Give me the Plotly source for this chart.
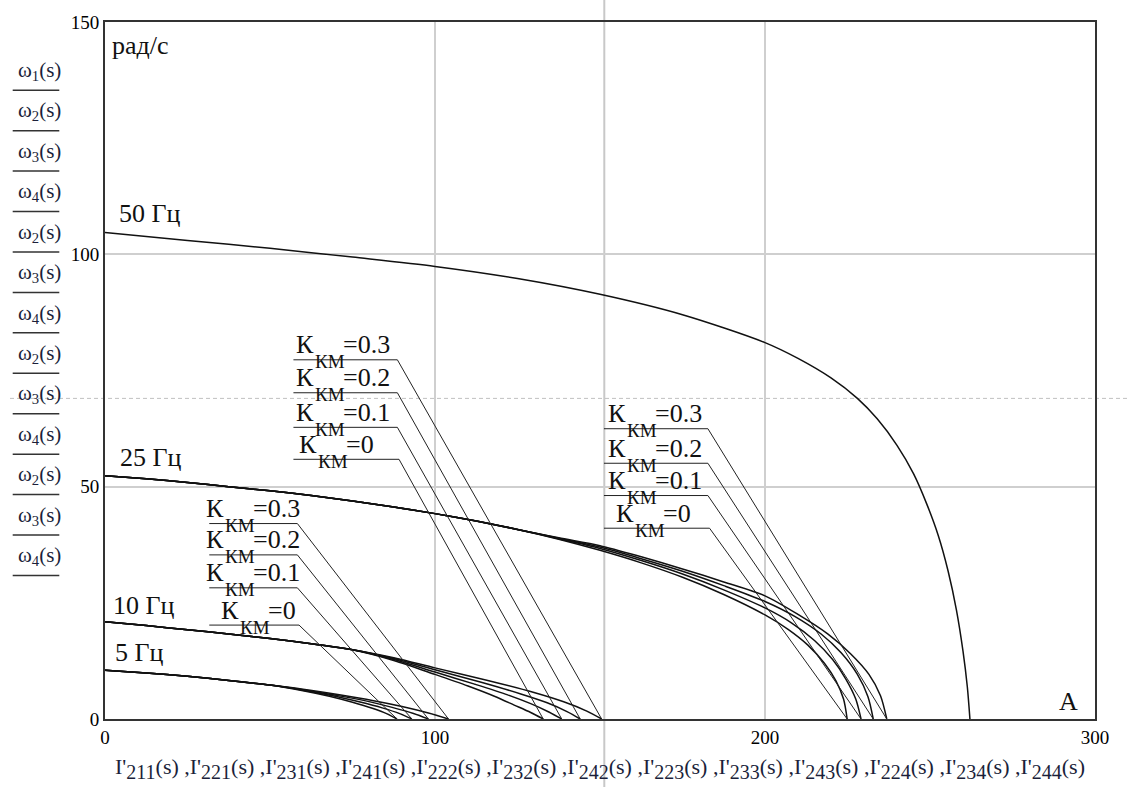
import plotly.graph_objects as go

# ---- data: rotor current I'2 (A) and angular speed omega (rad/s) ----
# 50 Hz
I_50 = [0, 25, 50, 75, 100, 125, 150, 175, 200, 210, 220, 228, 234, 240, 245, 249, 252.5, 255.5, 258, 260, 261.3, 262.1]
W_50 = [104.7, 103.0, 101.3, 99.4, 97.4, 94.8, 91.4, 87.0, 81.0, 77.6, 73.4, 69.0, 64.6, 58.9, 52.8, 46.3, 39.5, 31.8, 23.5, 14.6, 7.0, 0.0]

# 25 Hz, K_km = 0, 0.1, 0.2, 0.3
I_25_K0 = [0, 12.5, 25, 37.5, 50, 62.5, 75, 87.5, 100, 112.5, 125, 137.5, 150, 162.5, 175, 187.5, 200, 207, 213, 218, 221.5, 223.8, 224.9]
W_25_K0 = [52.36, 51.7, 50.9, 50.0, 49.1, 48.1, 46.9, 45.6, 44.2, 42.6, 40.8, 38.7, 36.3, 33.6, 30.5, 26.8, 22.4, 19.3, 15.9, 12.0, 8.2, 4.3, 0.0]
I_25_K1 = [0, 12.5, 25, 37.5, 50, 62.5, 75, 87.5, 100, 112.5, 125, 137.5, 150, 162.5, 175, 187.5, 200, 208, 215, 220.5, 224.5, 227.5, 229.1]
W_25_K1 = [52.36, 51.7, 50.9, 50.0, 49.1, 48.1, 46.9, 45.6, 44.2, 42.6, 40.8, 38.8, 36.7, 34.1, 31.2, 27.8, 23.9, 20.7, 16.9, 12.8, 8.6, 4.3, 0.0]
I_25_K2 = [0, 12.5, 25, 37.5, 50, 62.5, 75, 87.5, 100, 112.5, 125, 137.5, 150, 162.5, 175, 187.5, 200, 209, 217, 223, 228, 231.2, 232.8]
W_25_K2 = [52.36, 51.7, 50.9, 50.0, 49.1, 48.1, 46.9, 45.6, 44.2, 42.6, 40.8, 38.9, 37.0, 34.5, 31.8, 28.7, 25.3, 22.1, 18.3, 14.3, 9.6, 4.8, 0.0]
I_25_K3 = [0, 12.5, 25, 37.5, 50, 62.5, 75, 87.5, 100, 112.5, 125, 137.5, 150, 162.5, 175, 187.5, 200, 210, 219, 226, 231.5, 235, 236.9]
W_25_K3 = [52.36, 51.7, 50.9, 50.0, 49.1, 48.1, 46.9, 45.6, 44.2, 42.6, 40.8, 39.0, 37.3, 34.9, 32.3, 29.5, 26.5, 22.5, 18.3, 14.0, 9.6, 5.0, 0.0]

# 10 Hz
I_10_K0 = [0, 12.5, 25, 37.5, 50, 62.5, 75, 87.5, 100, 110, 118, 124, 129, 132.8]
W_10_K0 = [20.94, 20.1, 19.2, 18.3, 17.3, 16.2, 14.9, 12.6, 9.6, 7.1, 4.9, 3.0, 1.4, 0.0]
I_10_K1 = [0, 12.5, 25, 37.5, 50, 62.5, 75, 87.5, 100, 112, 122, 129, 134.5, 138.4]
W_10_K1 = [20.94, 20.1, 19.2, 18.3, 17.3, 16.2, 14.9, 12.8, 10.1, 7.5, 5.2, 3.3, 1.5, 0.0]
I_10_K2 = [0, 12.5, 25, 37.5, 50, 62.5, 75, 87.5, 100, 114, 126, 134, 140, 144.0]
W_10_K2 = [20.94, 20.1, 19.2, 18.3, 17.3, 16.2, 14.9, 13.0, 10.6, 7.9, 5.4, 3.5, 1.6, 0.0]
I_10_K3 = [0, 12.5, 25, 37.5, 50, 62.5, 75, 87.5, 100, 116, 130, 139, 146, 150.5]
W_10_K3 = [20.94, 20.1, 19.2, 18.3, 17.3, 16.2, 14.9, 13.2, 11.0, 8.3, 5.7, 3.7, 1.7, 0.0]

# 5 Hz
I_5_K0 = [0, 12.5, 25, 37.5, 50, 60, 68, 75, 81, 85.5, 88.5]
W_5_K0 = [10.47, 9.9, 9.2, 8.3, 7.3, 6.1, 4.9, 3.6, 2.3, 1.1, 0.0]
I_5_K1 = [0, 12.5, 25, 37.5, 50, 60, 69, 77, 84, 89.5, 93.0]
W_5_K1 = [10.47, 9.9, 9.2, 8.3, 7.3, 6.2, 5.0, 3.7, 2.4, 1.1, 0.0]
I_5_K2 = [0, 12.5, 25, 37.5, 50, 60, 70, 79, 87, 93.5, 98.0]
W_5_K2 = [10.47, 9.9, 9.2, 8.3, 7.3, 6.3, 5.1, 3.9, 2.5, 1.2, 0.0]
I_5_K3 = [0, 12.5, 25, 37.5, 50, 60, 71, 81, 90, 98, 104.1]
W_5_K3 = [10.47, 9.9, 9.2, 8.3, 7.3, 6.4, 5.2, 4.0, 2.7, 1.3, 0.0]

# compensation coefficient labels, top to bottom
K_LABELS = ["0.3", "0.2", "0.1", "0"]

# plotted functions listed beside the axes
Y_NAMES = ["1", "2", "3", "4", "2", "3", "4", "2", "3", "4", "2", "3", "4"]
X_NAMES = ["211", "221", "231", "241", "222", "232", "242", "223", "233", "243", "224", "234", "244"]

FREQ_LABELS = ["50 Гц", "25 Гц", "10 Гц", "5 Гц"]

# trace markers (vertical at I, horizontal at omega)
MARK_I = 151.3
MARK_W = 69.0

X_TICKS = [0, 100, 200, 300]
Y_TICKS = [0, 50, 100, 150]

# ---- layout constants ----
W, H = 1129, 787
ML, MR, MT, MB = 105, 34, 16, 66
PW, PH = W - ML - MR, H - MT - MB
SERIF = "Liberation Serif"
INK = "#111111"
GRID = "#cfcfcf"


def px_x(p):
    return (p - ML) / PW


def px_y(p):
    return (H - MB - p) / PH


fig = go.Figure()

curves = [
    (I_50, W_50),
    (I_25_K0, W_25_K0), (I_25_K1, W_25_K1), (I_25_K2, W_25_K2), (I_25_K3, W_25_K3),
    (I_10_K0, W_10_K0), (I_10_K1, W_10_K1), (I_10_K2, W_10_K2), (I_10_K3, W_10_K3),
    (I_5_K0, W_5_K0), (I_5_K1, W_5_K1), (I_5_K2, W_5_K2), (I_5_K3, W_5_K3),
]
for xs, ys in curves:
    fig.add_trace(go.Scatter(
        x=xs, y=ys, mode="lines",
        line=dict(color=INK, width=1.5, shape="spline", smoothing=0.8),
        hoverinfo="skip", showlegend=False,
    ))

shapes = []
annotations = []

# trace markers
shapes.append(dict(type="line", xref="x", yref="paper", x0=MARK_I, x1=MARK_I,
                   y0=-0.12, y1=1.05, line=dict(color="#c8c8c8", width=2), layer="below"))
shapes.append(dict(type="line", xref="paper", yref="y", x0=px_x(10), x1=1.05,
                   y0=MARK_W, y1=MARK_W, line=dict(color="#c0c0c0", width=1, dash="4px,3px"),
                   layer="below"))

# K_km labels with leader lines to the end of each characteristic
groups = [
    dict(tx=152.1, x0=151.2, x1=182.7, u=[62.47, 55.04, 48.09, 41.06], s0=8,
         ends=[I_25_K3[-1], I_25_K2[-1], I_25_K1[-1], I_25_K0[-1]]),
    dict(tx=57.7, x0=57.1, x1=88.6, u=[77.30, 70.21, 62.77, 55.89], s0=3,
         ends=[I_10_K3[-1], I_10_K2[-1], I_10_K1[-1], I_10_K0[-1]]),
    dict(tx=30.4, x0=31.6, x1=58.3, u=[42.06, 35.32, 28.23, 20.21], s0=15,
         ends=[I_5_K3[-1], I_5_K2[-1], I_5_K1[-1], I_5_K0[-1]]),
]
for g in groups:
    for k, (lab, u, iend) in enumerate(zip(K_LABELS, g["u"], g["ends"])):
        x1 = g["x1"] + (0.5 if lab == "0" else 0)
        shapes.append(dict(type="path", xref="x", yref="y",
                           path=f"M {g['x0']},{u} L {x1},{u} L {iend},0",
                           line=dict(color="#222222", width=1)))
        sh = g["s0"] if lab == "0" else 0
        common = dict(xref="x", yref="y", x=g["tx"], y=u, showarrow=False,
                      xanchor="left", yanchor="middle")
        annotations.append(dict(common, text="К", xshift=sh - 1, yshift=15,
                                font=dict(family=SERIF, size=26, color=INK)))
        annotations.append(dict(common, text="КМ", xshift=sh + 18, yshift=-2,
                                font=dict(family=SERIF, size=19, color=INK)))
        annotations.append(dict(common, text="=" + lab, xshift=sh + 46, yshift=15,
                                font=dict(family=SERIF, size=26, color=INK)))

# frequency labels, units
text_pos = [(117, 210), (118, 456), (111, 606), (113, 654)]
for lab, (px, py) in zip(FREQ_LABELS, text_pos):
    annotations.append(dict(xref="paper", yref="paper", x=px_x(px), y=px_y(py), text=lab,
                            showarrow=False, xanchor="left", yanchor="middle",
                            font=dict(family=SERIF, size=26, color=INK)))
annotations.append(dict(xref="paper", yref="paper", x=px_x(110), y=px_y(40), text="рад/с",
                        showarrow=False, xanchor="left", yanchor="middle",
                        font=dict(family=SERIF, size=26, color=INK)))
annotations.append(dict(xref="paper", yref="paper", x=px_x(1057), y=px_y(703), text="A",
                        showarrow=False, xanchor="left", yanchor="middle",
                        font=dict(family=SERIF, size=26, color=INK)))

# stacked function names on the vertical axis
for i, n in enumerate(Y_NAMES):
    yt = 65.5 + 40.9 * i
    annotations.append(dict(xref="paper", yref="paper", x=px_x(39.5), y=px_y(yt),
                            text=f"ω<sub>{n}</sub>(s)", showarrow=False,
                            xanchor="center", yanchor="middle",
                            font=dict(family=SERIF, size=21, color="#1b1f3a")))
    yl = yt + 19.5
    shapes.append(dict(type="line", xref="paper", yref="paper",
                       x0=px_x(12.7), x1=px_x(59.3), y0=px_y(yl), y1=px_y(yl),
                       line=dict(color="#333333", width=1.5)))

x_title = " ,".join(
    f"I'<sub><span style='font-size:20px'>{n}</span></sub>(s)" for n in X_NAMES
)

axis_common = dict(
    showline=True, linecolor="#333333", linewidth=2, mirror=True,
    showgrid=True, gridcolor=GRID, gridwidth=2, zeroline=False,
    ticks="", tickfont=dict(family=SERIF, size=19, color="#000000"),
)

fig.update_layout(
    width=W, height=H,
    margin=dict(l=ML, r=MR, t=MT, b=MB),
    paper_bgcolor="white", plot_bgcolor="white",
    showlegend=False,
    shapes=shapes, annotations=annotations,
    xaxis=dict(axis_common, range=[0, 300], tickvals=X_TICKS,
               title=dict(text=x_title, font=dict(family=SERIF, size=22, color="#1b1f3a"), standoff=12)),
    yaxis=dict(axis_common, range=[0, 150], tickvals=Y_TICKS),
)

fig.write_html("out.html")
